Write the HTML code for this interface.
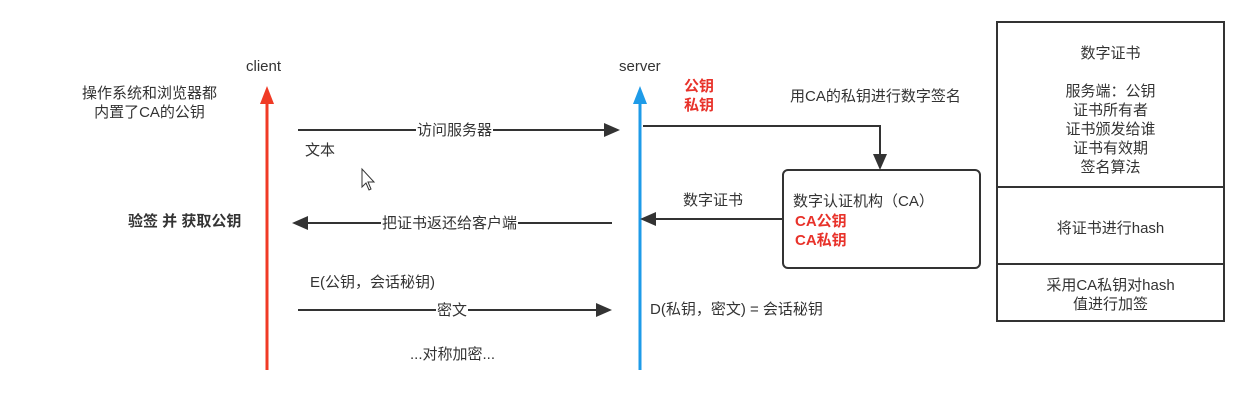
<!DOCTYPE html>
<html><head><meta charset="utf-8"><style>
body{margin:0;width:1250px;height:402px;background:#fff;position:relative;overflow:hidden;font-family:"Liberation Sans","Noto Sans CJK SC",sans-serif;font-size:15px;color:#333}
.t{position:absolute;white-space:nowrap;line-height:19px}
.r{color:#e8322a;font-weight:bold}
.lbl{background:#fff;padding:0 1px}
</style></head><body>
<svg width="1250" height="402" style="position:absolute;left:0;top:0">
<line x1="267" y1="370" x2="267" y2="100" stroke="#f03a25" stroke-width="3"/>
<path d="M260,104 L267,86 L274,104 Z" fill="#f03a25"/>
<line x1="640" y1="370" x2="640" y2="100" stroke="#1e9be8" stroke-width="3"/>
<path d="M633,104 L640,86 L647,104 Z" fill="#1e9be8"/>
<g stroke="#333" stroke-width="2" fill="none">
<line x1="298" y1="130" x2="604" y2="130"/>
<line x1="612" y1="223" x2="308" y2="223"/>
<line x1="298" y1="310" x2="596" y2="310"/>
<polyline points="643,126 880,126 880,156"/>
<line x1="783" y1="219" x2="656" y2="219"/>
<rect x="783" y="170" width="197" height="98" rx="5"/>
<rect x="997" y="22" width="227" height="299"/>
<line x1="997" y1="187" x2="1224" y2="187"/>
<line x1="997" y1="264" x2="1224" y2="264"/>
</g>
<g fill="#333">
<path d="M604,123 L620,130 L604,137 Z"/>
<path d="M308,216 L292,223 L308,230 Z"/>
<path d="M596,303 L612,310 L596,317 Z"/>
<path d="M873,154 L880,170 L887,154 Z"/>
<path d="M656,212 L640,219 L656,226 Z"/>
</g>
<path d="M362,169 L362,187 L366,183 L369,190 L371,189 L368,182 L374,182 Z" fill="#fff" stroke="#333" stroke-width="1"/>
</svg>
<div class="t" style="left:246px;top:57px">client</div>
<div class="t" style="left:619px;top:57px">server</div>
<div class="t" style="left:82px;top:84px;text-align:center">操作系统和浏览器都<br>内置了CA的公钥</div>
<div class="t lbl" style="left:416px;top:121px">访问服务器</div>
<div class="t" style="left:305px;top:141px">文本</div>
<div class="t" style="left:128px;top:212px;font-weight:bold">验签 并 获取公钥</div>
<div class="t lbl" style="left:381px;top:214px">把证书返还给客户端</div>
<div class="t" style="left:310px;top:273px">E(公钥，会话秘钥)</div>
<div class="t lbl" style="left:436px;top:301px">密文</div>
<div class="t" style="left:410px;top:345px">...对称加密...</div>
<div class="t r" style="left:684px;top:77px">公钥<br>私钥</div>
<div class="t" style="left:790px;top:87px">用CA的私钥进行数字签名</div>
<div class="t" style="left:683px;top:191px">数字证书</div>
<div class="t" style="left:793px;top:192px">数字认证机构（CA）</div>
<div class="t r" style="left:795px;top:212px">CA公钥<br>CA私钥</div>
<div class="t" style="left:650px;top:300px">D(私钥，密文) = 会话秘钥</div>
<div class="t" style="left:997px;top:44px;width:227px;text-align:center">数字证书<br><br>服务端：公钥<br>证书所有者<br>证书颁发给谁<br>证书有效期<br>签名算法</div>
<div class="t" style="left:997px;top:219px;width:227px;text-align:center">将证书进行hash</div>
<div class="t" style="left:997px;top:276px;width:227px;text-align:center">采用CA私钥对hash<br>值进行加签</div>
</body></html>
